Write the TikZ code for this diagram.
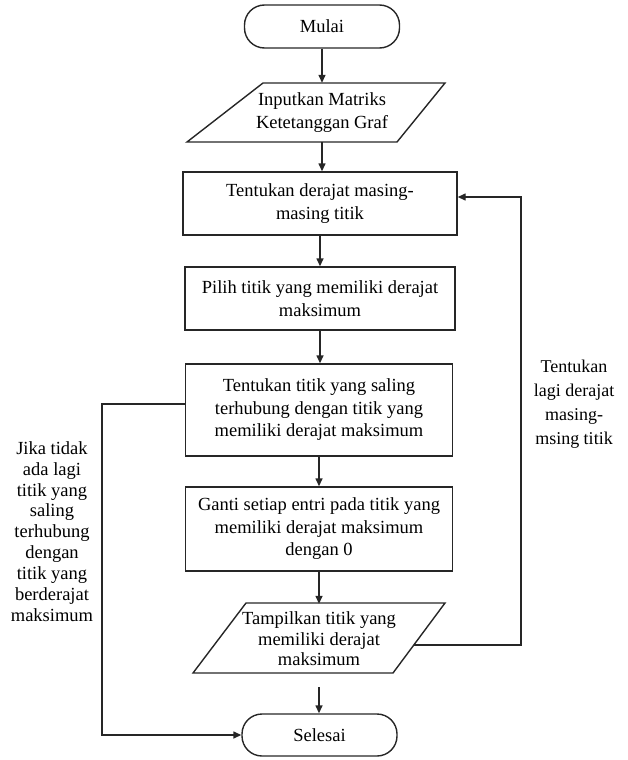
\documentclass[tikz,border=0pt]{standalone}
\usepackage{fontspec}
\setmainfont{Liberation Serif}
\usetikzlibrary{arrows.meta}
\begin{document}
\begin{tikzpicture}[x=1pt,y=-1pt,
  line/.style={draw=black!85, line width=1.4pt},
  arr/.style={line, -{Triangle[length=8pt,width=7pt]}},
  procbox/.style={draw=black!85, line width=1.4pt, rectangle, align=center,
    font=\fontsize{18.5}{22.5}\selectfont, inner sep=0pt},
  term/.style={procbox, rounded corners=20pt},
  txt/.style={align=center, font=\fontsize{18.5}{22.5}\selectfont, inner sep=0pt},
]
\useasboundingbox (0,0) rectangle (628,760);
% start
\node[term, minimum width=155pt, minimum height=43pt] (mulai) at (322,26.5) {Mulai};
% input
\draw[line] (263,83) -- (445,83) -- (397,142) -- (187,142) -- cycle;
\node[txt, minimum height=59pt] (inp) at (322,112.5) {Inputkan Matriks\\Ketetanggan Graf};
% processes
\node[procbox, minimum width=274pt, minimum height=63pt] (b1) at (320,203.5) {Tentukan derajat masing-\\masing titik};
\node[procbox, minimum width=270pt, minimum height=63pt] (b2) at (320,298.5) {Pilih titik yang memiliki derajat\\maksimum};
\node[procbox, minimum width=267pt, minimum height=92pt] (b3) at (319,410) {Tentukan titik yang saling\\terhubung dengan titik yang\\memiliki derajat maksimum};
\node[procbox, minimum width=267pt, minimum height=84pt] (b4) at (319,529) {Ganti setiap entri pada titik yang\\memiliki derajat maksimum\\dengan 0};
% output
\draw[line] (246,603) -- (445,603) -- (393,673) -- (193,673) -- cycle;
\node[txt, minimum height=70pt, font=\fontsize{18.5}{20.5}\selectfont] (tamp) at (319,639) {Tampilkan titik yang\\memiliki derajat\\maksimum};
% end
\node[term, minimum width=155pt, minimum height=42pt] (selesai) at (319.5,735) {Selesai};
% connectors
\draw[arr] (mulai) -- (mulai |- inp.north);
\draw[arr] (inp) -- (inp |- b1.north);
\draw[arr] (b1) -- (b1 |- b2.north);
\draw[arr] (b2) -- (b2 |- b3.north);
\draw[arr] (b3) -- (b3 |- b4.north);
\draw[arr] (b4) -- (b4 |- tamp.north);
\coordinate (a1) at (319,687);
\draw[arr] (a1) -- (a1 |- selesai.north);
\coordinate (L) at (102,404);
\draw[arr] (b3.west |- L) -- (L) |- (selesai.west);
\coordinate (tampR) at (414,645);
\coordinate (R) at (521,645);
\coordinate (Rt) at (521,197);
\draw[arr] (tampR) -- (R) -- (Rt) -- (b1.east |- Rt);
% labels
\node[txt, font=\fontsize{18.5}{20.9}\selectfont] (lbl1) at (52,531.5) {Jika tidak\\ada lagi\\titik yang\\saling\\terhubung\\dengan\\titik yang\\berderajat\\maksimum};
\node[txt, font=\fontsize{18}{24}\selectfont] (lbl2) at (574,404) {Tentukan\\lagi derajat\\masing-\\msing titik};
\end{tikzpicture}
\end{document}
